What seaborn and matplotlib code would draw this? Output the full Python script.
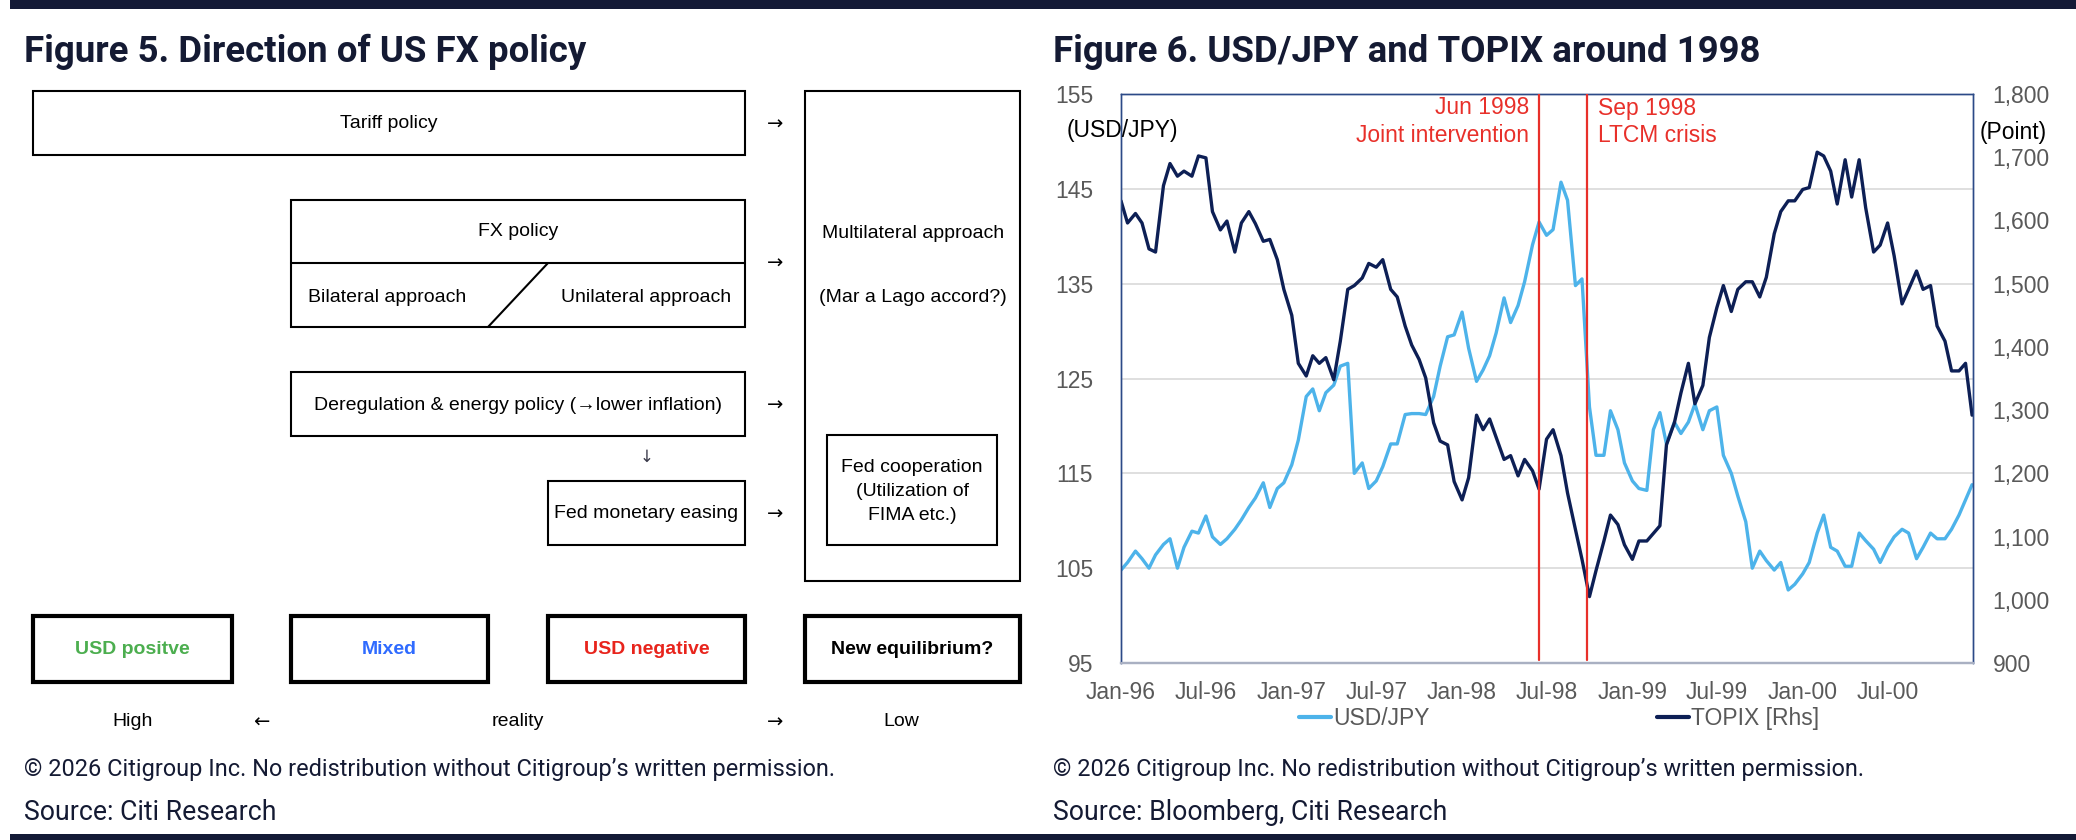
import numpy as np
import pandas as pd
import seaborn as sns
import matplotlib
matplotlib.use('Agg')
import matplotlib.pyplot as plt
from matplotlib.patches import Rectangle
from matplotlib.lines import Line2D
from matplotlib.ticker import FuncFormatter

# semi-monthly readings, Jan-96 .. Dec-00
usdjpy = [
    # 1996
    104.8, 105.6, 106.8, 106.0, 105.0, 106.4, 107.5, 108.1, 105.0, 107.2, 108.9, 108.7,
    110.5, 108.3, 107.5, 108.1, 109.1, 110.1, 111.4, 112.4, 114.0, 111.4, 113.4, 114.0,
    # 1997
    115.9, 118.5, 123.1, 123.9, 121.6, 123.5, 124.3, 126.3, 126.6, 115.0, 116.1, 113.4,
    114.2, 115.7, 118.1, 118.1, 121.2, 121.3, 121.3, 121.2, 123.1, 126.3, 129.4, 129.6,
    # 1998
    132.0, 128.2, 124.7, 125.9, 127.4, 129.8, 133.5, 130.9, 132.7, 135.2, 139.1, 141.5,
    140.1, 140.7, 145.7, 143.8, 134.8, 135.5, 122.0, 116.9, 116.9, 121.6, 119.6, 116.1,
    # 1999
    114.2, 113.4, 113.2, 119.6, 121.4, 118.1, 120.4, 119.2, 120.4, 122.3, 119.6, 121.6,
    122.0, 116.9, 115.0, 112.6, 109.9, 105.0, 106.8, 105.8, 104.8, 105.6, 102.7, 103.3,
    # 2000
    104.4, 105.6, 108.7, 110.6, 107.2, 106.8, 105.2, 105.2, 108.7, 107.9, 107.0, 105.6,
    107.2, 108.3, 109.1, 108.7, 106.0, 107.2, 108.7, 108.1, 108.1, 109.1, 110.6, 112.2,
    113.8]

topix = [
    # 1996
    1631, 1596, 1611, 1596, 1555, 1550, 1655, 1690, 1670, 1678, 1670, 1702,
    1699, 1614, 1585, 1599, 1550, 1596, 1614, 1595, 1567, 1570, 1538, 1491,
    # 1997
    1450, 1374, 1354, 1386, 1374, 1383, 1348, 1409, 1491, 1497, 1509, 1532,
    1526, 1538, 1491, 1479, 1433, 1403, 1380, 1351, 1280, 1251, 1245, 1187,
    # 1998
    1158, 1193, 1292, 1269, 1286, 1257, 1222, 1228, 1196, 1222, 1204, 1175,
    1254, 1269, 1228, 1169, 1111, 1064, 1005, 1046, 1093, 1134, 1119, 1087,
    # 1999
    1064, 1093, 1093, 1105, 1117, 1245, 1280, 1327, 1374, 1310, 1339, 1415,
    1462, 1497, 1456, 1491, 1503, 1503, 1479, 1510, 1579, 1614, 1631, 1631,
    # 2000
    1649, 1652, 1708, 1702, 1678, 1626, 1696, 1637, 1696, 1620, 1550, 1561,
    1596, 1544, 1468, 1491, 1520, 1491, 1497, 1433, 1409, 1362, 1362, 1374,
    1292]

dates = list(pd.date_range('1996-01-01', '2000-12-15', freq='SMS')) + [pd.Timestamp('2000-12-29')]
xtick_dates = pd.date_range('1996-01-01', '2000-07-01', freq='6MS')
xtick_labels = ['Jan-96', 'Jul-96', 'Jan-97', 'Jul-97', 'Jan-98', 'Jul-98',
                'Jan-99', 'Jul-99', 'Jan-00', 'Jul-00']
events = [pd.Timestamp('1998-06-15'), pd.Timestamp('1998-09-25')]

df = pd.DataFrame({'date': dates, 'usdjpy': usdjpy, 'topix': topix})

sns.set_style('white')
plt.rcParams['font.family'] = ['Liberation Sans', 'DejaVu Sans']
head_font = ['Roboto', 'DejaVu Sans']

NAVY_BAR = '#141a36'
LIGHT = '#4db3ea'
NAVY = '#0d1f55'
RED = '#e8302a'
GREY = '#595959'

fig = plt.figure(figsize=(20.76, 8.4), dpi=100)

# ---- Figure 6 chart ----
ax = fig.add_axes([1121 / 2076, (840 - 663) / 840, 852 / 2076, 569 / 840])
sns.lineplot(data=df, x='date', y='usdjpy', ax=ax, color=LIGHT, lw=2.4)
ax2 = ax.twinx()
sns.lineplot(data=df, x='date', y='topix', ax=ax2, color=NAVY, lw=2.4)

ax.set_xlim(pd.Timestamp('1996-01-01'), pd.Timestamp('2000-12-31'))
ax.set_ylim(95, 155)
ax.set_yticks(range(95, 156, 10))
ax2.set_ylim(900, 1800)
ax2.set_yticks(range(900, 1801, 100))
ax2.yaxis.set_major_formatter(FuncFormatter(lambda v, p: f'{v:,.0f}'))
ax.set_xticks(xtick_dates)
ax.set_xticklabels(xtick_labels)
for a in (ax, ax2):
    a.set_xlabel('')
    a.set_ylabel('')
ax.grid(axis='y', color='#d9d9d9', lw=1.2)
ax.tick_params(axis='y', length=0, pad=20, labelsize=16.5, labelcolor=GREY)
ax2.tick_params(axis='y', length=0, pad=14, labelsize=16.5, labelcolor=GREY)
ax.tick_params(axis='x', length=5, width=1.2, color='#d0d0d0', pad=8,
               labelsize=16.5, labelcolor=GREY)
for a in (ax, ax2):
    for s in ('left', 'top', 'right'):
        a.spines[s].set_color('#2c4a87')
        a.spines[s].set_linewidth(1)
    a.spines['bottom'].set_color('#a9b0c2')
    a.spines['bottom'].set_linewidth(1.6)

for d in events:
    ax2.axvline(d, ymin=0.006, ymax=1, color=RED, lw=1.6, zorder=5)

handles = [Line2D([], [], color=LIGHT, lw=3), Line2D([], [], color=NAVY, lw=3)]
ax.legend(handles, ['USD/JPY', 'TOPIX [Rhs]'], loc='center', bbox_to_anchor=(0.514, -0.097),
          ncol=2, frameon=False, handlelength=1.4, handletextpad=0.1, columnspacing=9.9,
          fontsize=16.5, labelcolor=GREY, borderaxespad=0)

# ---- overlay in pixel coordinates ----
ov = fig.add_axes([0, 0, 1, 1], zorder=10)
ov.set_xlim(0, 2076)
ov.set_ylim(840, 0)
ov.axis('off')
ov.patch.set_alpha(0)

ov.add_patch(Rectangle((10, 0), 2066, 9, color=NAVY_BAR, lw=0))
ov.add_patch(Rectangle((10, 834), 2066, 6, color=NAVY_BAR, lw=0))

TXT = '#141a33'
ov.text(24, 62, 'Figure 5. Direction of US FX policy', family=head_font, weight='bold',
        fontsize=26.4, color=TXT, va='baseline')
ov.text(1053, 62, 'Figure 6. USD/JPY and TOPIX around 1998', family=head_font, weight='bold',
        fontsize=26.4, color=TXT, va='baseline')
copy_txt = '\u00a9 2026 Citigroup Inc. No redistribution without Citigroup\u2019s written permission.'
ov.text(24, 776, copy_txt, family=head_font, fontsize=16.9, color=TXT, va='baseline')
ov.text(1053, 776, copy_txt, family=head_font, fontsize=16.9, color=TXT, va='baseline')
ov.text(24, 820, 'Source: Citi Research', family=head_font, fontsize=19.2, color=TXT,
        va='baseline')
ov.text(1053, 820, 'Source: Bloomberg, Citi Research', family=head_font, fontsize=19.2,
        color=TXT, va='baseline')

# chart side labels
ov.text(1067, 130, '(USD/JPY)', fontsize=16.5, color='black', va='center')
ov.text(1980, 133, '(Point)', fontsize=16.5, color='black', va='center')
ov.text(1529, 108, 'Jun 1998', fontsize=16.5, color=RED, va='center', ha='right')
ov.text(1529, 136, 'Joint intervention', fontsize=16.5, color=RED, va='center', ha='right')
ov.text(1598, 108, 'Sep 1998', fontsize=16.5, color=RED, va='center', ha='left')
ov.text(1598, 136, 'LTCM crisis', fontsize=16.5, color=RED, va='center', ha='left')

# ---- Figure 5 diagram ----
FS = 14
ARROW = ['DejaVu Sans']


def box(x0, y0, x1, y1, lw=1.5):
    ov.add_patch(Rectangle((x0, y0), x1 - x0, y1 - y0, fill=False, ec='black', lw=lw))


def label(x, y, s, **kw):
    kw.setdefault('ha', 'center')
    kw.setdefault('fontsize', FS)
    ov.text(x, y, s, va='center', color=kw.pop('color', 'black'), **kw)


box(33, 91, 745, 155)
label(389, 124, 'Tariff policy')

box(291, 200, 745, 327)
ov.plot([291, 745], [263, 263], color='black', lw=1.5)
ov.plot([548, 488], [263, 327], color='black', lw=1.5)
label(518, 232, 'FX policy')
label(308, 297, 'Bilateral approach', ha='left')
label(731, 297, 'Unilateral approach', ha='right')

box(291, 372, 745, 436)
label(518, 405, 'Deregulation & energy policy (\u2192lower inflation)')
label(647, 457, '\u2193', color='#3a3a4a', fontsize=12, family=ARROW)

box(548, 481, 745, 545)
label(646, 513, 'Fed monetary easing')

box(805, 91, 1020, 581)
label(913, 233, 'Multilateral approach')
label(913, 297, '(Mar a Lago accord?)')
box(827, 435, 997, 545)
label(912, 467, 'Fed cooperation')
label(912, 491, '(Utilization of')
label(912, 515, 'FIMA etc.)')

for yy in (124, 263, 405, 514, 722):
    label(775, yy, '\u2192', family=ARROW)

bottom_boxes = [(33, 232, 'USD positve', '#4cae4f'), (291, 488, 'Mixed', '#2f6bff'),
                (548, 745, 'USD negative', '#e8241c'), (805, 1020, 'New equilibrium?', 'black')]
for x0, x1, s, c in bottom_boxes:
    box(x0, 616, x1, 682, lw=3)
    label((x0 + x1) / 2, 649, s, color=c, weight='bold')

label(133, 722, 'High')
label(261, 722, '\u2190', family=ARROW)
label(518, 722, 'reality')
label(901, 722, 'Low')

fig.savefig('out.png', dpi=100)
